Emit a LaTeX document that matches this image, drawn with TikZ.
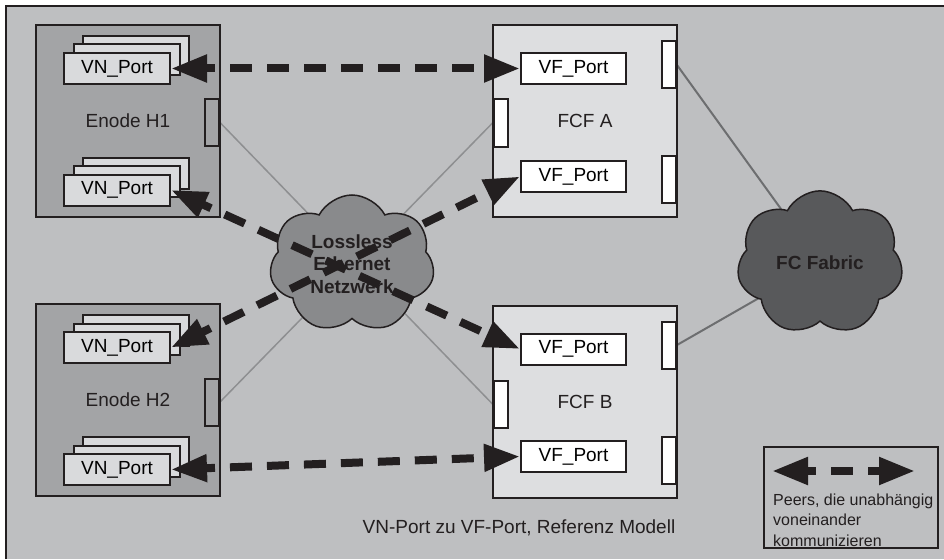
\documentclass[tikz,border=0pt]{standalone}
\usepackage{fontspec}
\setmainfont{Liberation Sans}
\usetikzlibrary{arrows.meta,shapes.symbols,shadows}

\definecolor{bggray}{HTML}{BEBFC1}
\definecolor{hostgray}{HTML}{A3A4A6}
\definecolor{portgray}{HTML}{D9DADC}
\definecolor{fcfgray}{HTML}{DDDEE0}
\definecolor{langray}{HTML}{898A8C}
\definecolor{fabgray}{HTML}{58595B}
\definecolor{ink}{HTML}{231F20}
\definecolor{wiregray}{HTML}{8E8F91}
\definecolor{fabwire}{HTML}{6D6E70}

\pgfdeclarelayer{bg}
\pgfdeclarelayer{wires}
\pgfsetlayers{bg,wires,main}

\tikzstyle{hostbox} = [rectangle, draw=ink, line width=2pt, fill=hostgray, minimum width=184pt, minimum height=192pt, text=ink, font=\fontsize{19}{22}\selectfont]
\tikzstyle{fcfbox} = [hostbox, fill=fcfgray]
\tikzstyle{vnport} = [rectangle, draw=ink, line width=2pt, fill=portgray, minimum width=106pt, minimum height=31pt, inner sep=0pt, font=\fontsize{19}{22}\selectfont,
    copy shadow={shadow xshift=19pt, shadow yshift=17pt, fill=portgray, draw=ink, line width=2pt},
    copy shadow={shadow xshift=9.5pt, shadow yshift=8.5pt, fill=portgray, draw=ink, line width=2pt}]
\tikzstyle{vfport} = [rectangle, draw=ink, line width=2pt, fill=white, minimum width=105pt, minimum height=31pt, inner sep=0pt, font=\fontsize{19}{22}\selectfont]
\tikzstyle{ifport} = [rectangle, draw=ink, line width=2pt, minimum width=14pt, minimum height=47pt, inner sep=0pt]
\tikzstyle{netcloud} = [cloud, cloud puffs=7, cloud puff arc=125, draw=ink, line width=1.5pt, inner sep=0pt, align=center, text=ink, font=\fontsize{19}{22.5}\selectfont\bfseries]

\begin{document}
\begin{tikzpicture}[x=1pt, y=-1pt]
        \tikzset{peer/.style={draw=ink, line width=8pt, dash pattern=on 22pt off 15pt, dash phase=12pt,
            {Triangle[length=36pt,width=26pt]}-{Triangle[length=36pt,width=26pt]}},
            lan/.style={draw=wiregray, line width=1.5pt},
            fcwire/.style={draw=fabwire, line width=2pt}}
        \useasboundingbox (0,0) rectangle (944,559);
        % frame
        \begin{pgfonlayer}{bg}
            \fill[bggray] (6,6) rectangle (944,559);
            \draw[ink, line width=2.5pt] (6,559) -- (6,6) -- (944,6);
        \end{pgfonlayer}

        % Enodes
        \node (h1) at (128,121) [hostbox] {Enode H1};
        \node (h2) at (128,400) [hostbox] {Enode H2};
        \node (h1vn1) at (117,68.5) [vnport] {VN\_Port};
        \node (h1vn2) at (117,190) [vnport] {VN\_Port};
        \node (h2vn1) at (117,347.5) [vnport] {VN\_Port};
        \node (h2vn2) at (117,469.5) [vnport] {VN\_Port};
        \node (h1if) at (212,122.5) [ifport, fill=hostgray] {};
        \node (h2if) at (212,402) [ifport, fill=hostgray] {};

        % FCFs
        \node (fcfa) at (585,121) [fcfbox] {FCF A};
        \node (fcfb) at (585,401.5) [fcfbox] {FCF B};
        \node (avf1) at (573.5,68.5) [vfport] {VF\_Port};
        \node (avf2) at (573.5,176.5) [vfport] {VF\_Port};
        \node (bvf1) at (573.5,349) [vfport] {VF\_Port};
        \node (bvf2) at (573.5,456.5) [vfport] {VF\_Port};
        \node (aifl) at (500.5,123) [ifport, fill=white] {};
        \node (bifl) at (500.5,404) [ifport, fill=white] {};
        \node (aifr1) at (669,65) [ifport, fill=white] {};
        \node (aifr2) at (669,179.5) [ifport, fill=white] {};
        \node (bifr1) at (669,345) [ifport, fill=white] {};
        \node (bifr2) at (669,460) [ifport, fill=white] {};

        % clouds
        \node (fab) at (820,263) [netcloud, fill=fabgray, minimum width=166pt, minimum height=140pt] {FC Fabric};
        \node (lan) at (352,264) [netcloud, fill=langray, minimum width=165pt, minimum height=138pt] {Lossless\\Ethernet\\Netzwerk};

        % wiring behind the clouds
        \begin{pgfonlayer}{wires}
            \draw[lan] (h1if.east) -- (bifl.west);
            \draw[lan] (h2if.east) -- (aifl.west);
            \draw[fcwire] (aifr1.east) -- (fab.center);
            \draw[fcwire] (bifr1.east) -- (fab.center);
        \end{pgfonlayer}

        % peers
        \draw[peer] (h1vn1.east) -- (avf1.west);
        \draw[peer] (h1vn2.east) -- (bvf1.west);
        \draw[peer] (h2vn1.east) -- (avf2.west);
        \draw[peer] (h2vn2.east) -- (bvf2.west);

        % legend
        \node (legend) at (851,497.5) [rectangle, draw=ink, line width=2pt, minimum width=174pt, minimum height=101pt] {};
        \coordinate (lgl) at (772,471);
        \coordinate (lgr) at (915,471);
        \draw[peer] (lgl) -- (lgr);
        \node (lgtext) at (773,520) [anchor=west, inner sep=0pt, align=left, text=ink, font=\fontsize{16}{20.5}\selectfont] {Peers, die unabhängig\\voneinander\\kommunizieren};

        \node (caption) at (519,528) [text=ink, font=\fontsize{19}{22}\selectfont] {VN-Port zu VF-Port, Referenz Modell};
\end{tikzpicture}
\end{document}
